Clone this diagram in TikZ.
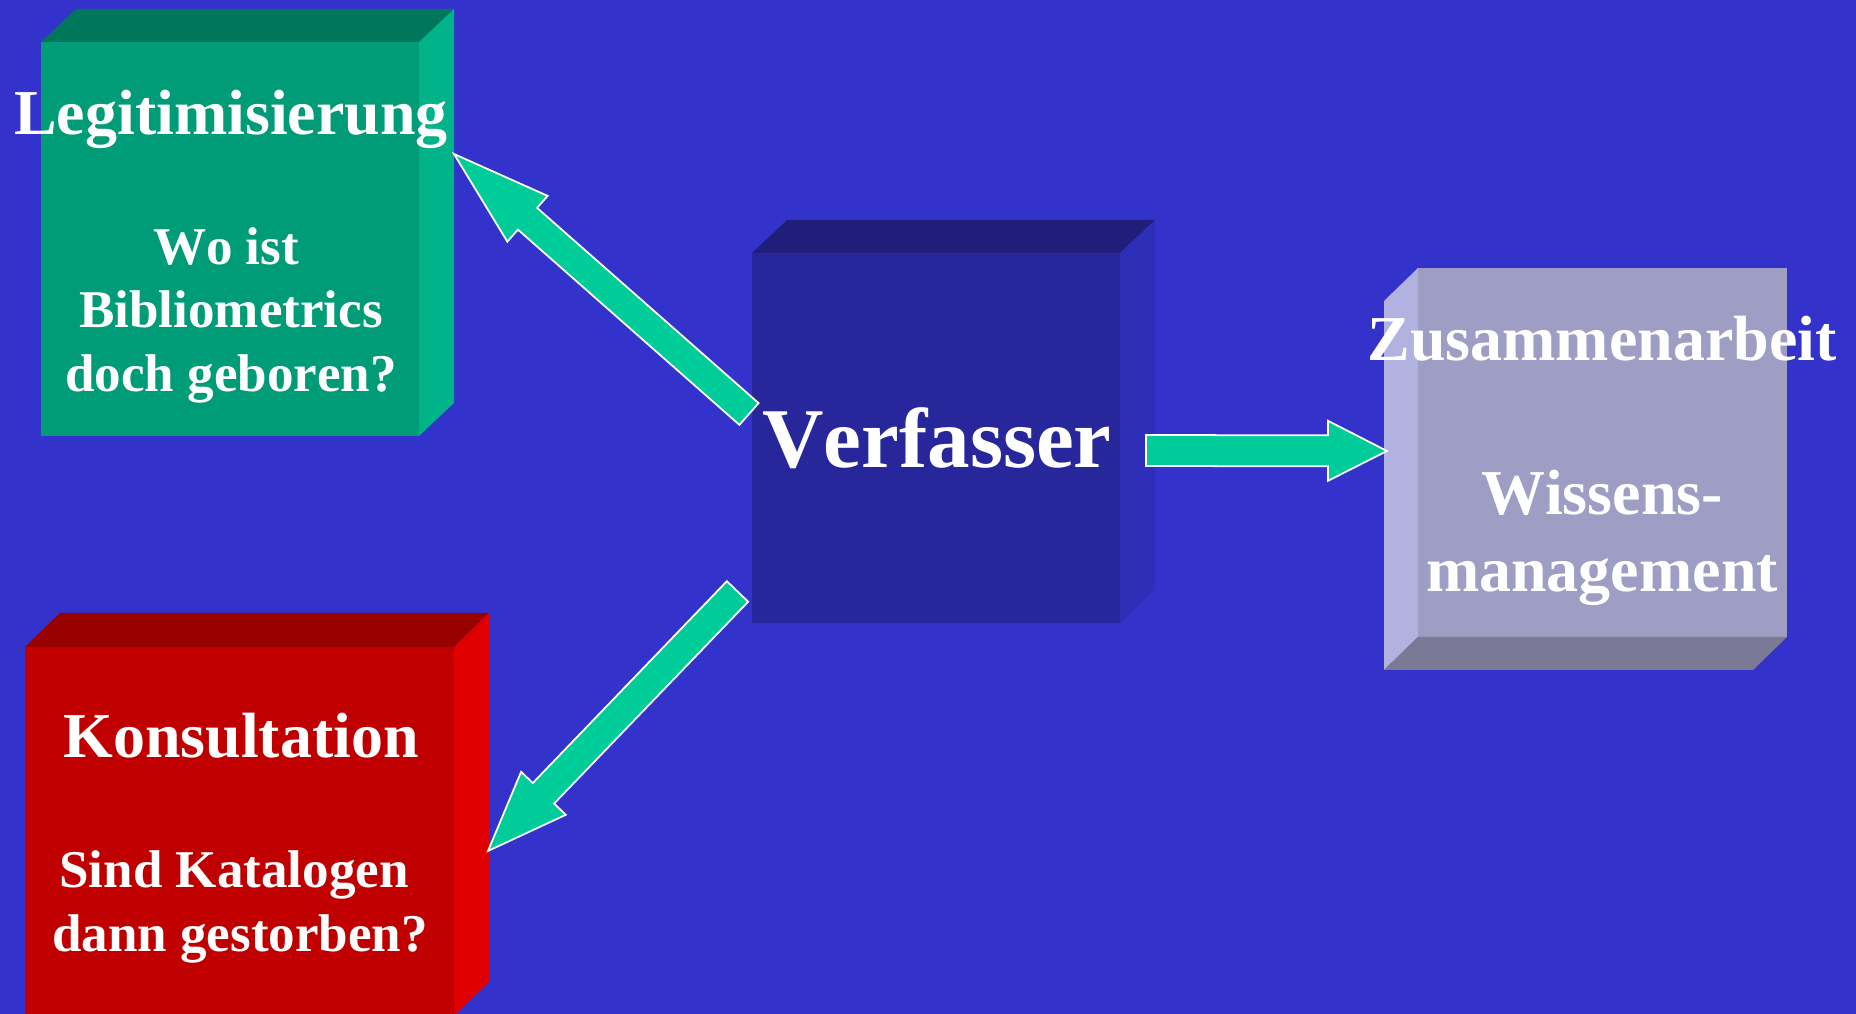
\documentclass[tikz,border=0pt]{standalone}
\usepackage{fontspec}
\setmainfont[Kerning=Off]{Liberation Serif}
\usetikzlibrary{calc}

\definecolor{bgblue}{RGB}{51,51,204}
\definecolor{arrowgreen}{RGB}{0,204,153}
\definecolor{legitfront}{RGB}{0,155,119}
\definecolor{legittop}{RGB}{0,119,90}
\definecolor{legitside}{RGB}{0,179,136}
\definecolor{verffront}{RGB}{39,39,155}
\definecolor{verftop}{RGB}{31,31,122}
\definecolor{verfside}{RGB}{46,46,184}
\definecolor{konsfront}{RGB}{192,0,0}
\definecolor{konstop}{RGB}{153,0,0}
\definecolor{konsside}{RGB}{224,0,0}
\definecolor{zusfront}{RGB}{158,158,196}
\definecolor{zusside}{RGB}{178,178,224}
\definecolor{zusbottom}{RGB}{122,122,150}

% block arrow: tail, tip, half shaft, half head, head length
\newcommand{\blockarrow}[5]{%
  \coordinate (#2-base) at ($(#2)!#5!(#1)$);
  \filldraw[blockarr] ($(#1)!#3!90:(#2)$) -- ($(#2-base)!#3!90:(#2)$)
    -- ($(#2-base)!#4!90:(#2)$) -- (#2) -- ($(#2-base)!#4!-90:(#2)$)
    -- ($(#2-base)!#3!-90:(#2)$) -- ($(#1)!#3!-90:(#2)$) -- cycle;}

\begin{document}
\begin{tikzpicture}
    \tikzstyle{face}=[rectangle, inner sep=0pt, outer sep=0pt]
    \tikzstyle{title}=[text=white, anchor=base, font=\bfseries\fontsize{18.2}{22}\selectfont]
    \tikzstyle{sub}=[text=white, anchor=base, font=\bfseries\fontsize{15.1}{18}\selectfont]
    \tikzstyle{blockarr}=[fill=arrowgreen, draw=white, line width=0.5pt, line join=miter]
    \useasboundingbox (0,0) rectangle (18.56,10.14);
    \fill[bgblue] (0,0) rectangle (18.56,10.14);
    % boxes
    \node[face, fill=legitfront, minimum width=3.78cm, minimum height=3.94cm] (legit) at (2.30,7.75) {};
    \fill[legittop] (legit.north west) -- (legit.north east) -- ++(0.35,0.33) -- ($(legit.north west)+(0.35,0.33)$) -- cycle;
    \fill[legitside] (legit.north east) -- (legit.south east) -- ++(0.35,0.33) -- ($(legit.north east)+(0.35,0.33)$) -- cycle;
    \node[face, fill=verffront, minimum width=3.68cm, minimum height=3.70cm] (verf) at (9.36,5.76) {};
    \fill[verftop] (verf.north west) -- (verf.north east) -- ++(0.35,0.33) -- ($(verf.north west)+(0.35,0.33)$) -- cycle;
    \fill[verfside] (verf.north east) -- (verf.south east) -- ++(0.35,0.33) -- ($(verf.north east)+(0.35,0.33)$) -- cycle;
    \node[face, fill=zusfront, minimum width=3.69cm, minimum height=3.69cm] (zus) at (16.025,5.615) {};
    \fill[zusside] (zus.north west) -- (zus.south west) -- ++(-0.34,-0.33) -- ($(zus.north west)+(-0.34,-0.33)$) -- cycle;
    \fill[zusbottom] (zus.south west) -- (zus.south east) -- ++(-0.34,-0.33) -- ($(zus.south west)+(-0.34,-0.33)$) -- cycle;
    \node[face, fill=konsfront, minimum width=4.29cm, minimum height=3.69cm] (kons) at (2.395,1.825) {};
    \fill[konstop] (kons.north west) -- (kons.north east) -- ++(0.35,0.34) -- ($(kons.north west)+(0.35,0.34)$) -- cycle;
    \fill[konsside] (kons.north east) -- (kons.south east) -- ++(0.35,0.34) -- ($(kons.north east)+(0.35,0.34)$) -- cycle;
    % arrows
    \coordinate (legit-tail) at ($(verf.west)+(-0.03,0.24)$);
    \coordinate (legit-tip) at ($(legit.north east)+(0.35,-1.12)$);
    \blockarrow{legit-tail}{legit-tip}{0.145cm}{0.305cm}{0.98cm}
    \coordinate (kons-tail) at ($(verf.south west)+(-0.145,0.315)$);
    \coordinate (kons-tip) at ($(kons.north east)+(0.34,-2.04)$);
    \blockarrow{kons-tail}{kons-tip}{0.148cm}{0.31cm}{0.80cm}
    \coordinate (zus-tail) at ($(verf.east)+(0.26,-0.125)$);
    \coordinate (zus-tip) at ($(zus.west)+(-0.31,0.015)$);
    \blockarrow{zus-tail}{zus-tip}{0.155cm}{0.30cm}{0.59cm}
    % texts
    \node[title] (legit-title) at (2.31,8.79) {Legitimisierung};
    \node[sub] (legit-q1) at (2.26,7.49) {Wo ist};
    \node[sub] (legit-q2) at (2.31,6.86) {Bibliometrics};
    \node[sub] (legit-q3) at (2.31,6.22) {doch geboren?};
    \node[text=white, anchor=base, font=\bfseries\fontsize{24.2}{29}\selectfont] (verf-title) at (9.37,5.46) {Verfasser};
    \node[title] (zus-title) at (16.02,6.53) {Zusammenarbeit};
    \node[title] (zus-l1) at (16.02,4.99) {Wissens-};
    \node[title] (zus-l2) at (16.02,4.22) {management};
    \node[title] (kons-title) at (2.41,2.56) {Konsultation};
    \node[sub] (kons-q1) at (2.34,1.26) {Sind Katalogen};
    \node[sub] (kons-q2) at (2.40,0.62) {dann gestorben?};
\end{tikzpicture}
\end{document}
